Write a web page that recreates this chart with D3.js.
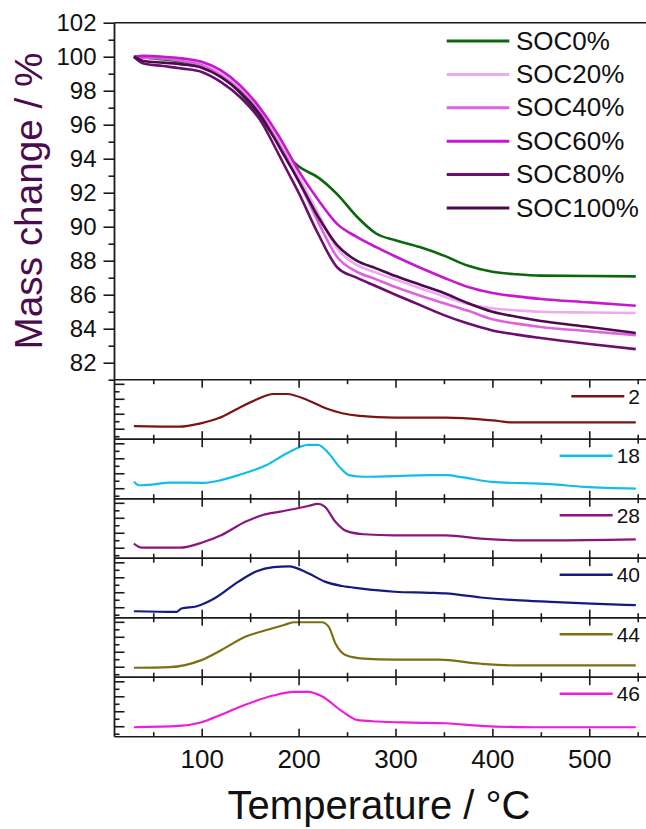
<!DOCTYPE html>
<html>
<head>
<meta charset="utf-8">
<script src="https://cdn.jsdelivr.net/npm/d3@7"></script>
<style>
  body { margin: 0; background: #fff; }
  svg { display: block; font-family: "Liberation Sans", Arial, sans-serif; }
</style>
</head>
<body>
<div id="chart"></div>
<script>
// TGA mass curves (top panel)
const tgaTemps = [30, 40, 60, 80, 100, 120, 140, 160, 180, 190, 200, 220, 240, 260, 280, 300, 325, 350, 375, 400, 425, 450, 500, 548];
const soc0 = [100, 99.95, 99.85, 99.7, 99.4, 98.85, 97.85, 96.4, 94.9, 94.1, 93.55, 92.9, 91.9, 90.6, 89.6, 89.2, 88.8, 88.3, 87.7, 87.35, 87.2, 87.12, 87.1, 87.08];
const soc20 = [100, 100, 99.95, 99.85, 99.6, 99.1, 98.2, 96.9, 95.1, 94.1, 93.0, 90.8, 88.7, 87.75, 87.3, 86.9, 86.4, 85.9, 85.45, 85.2, 85.08, 85.0, 84.95, 84.92];
const soc40 = [100, 99.95, 99.9, 99.75, 99.5, 98.9, 98.0, 96.7, 94.8, 93.8, 92.7, 90.3, 88.2, 87.35, 86.9, 86.45, 85.95, 85.5, 85.05, 84.55, 84.3, 84.1, 83.85, 83.62];
const soc60 = [100, 100.05, 100, 99.9, 99.7, 99.2, 98.3, 97.0, 95.3, 94.3, 93.3, 91.6, 90.15, 89.4, 88.8, 88.25, 87.6, 87.0, 86.45, 86.1, 85.9, 85.75, 85.55, 85.35];
const soc80 = [100, 99.6, 99.45, 99.3, 99.1, 98.5, 97.6, 96.3, 94.2, 93.1, 92.0, 89.6, 87.6, 87.0, 86.5, 86.0, 85.4, 84.8, 84.3, 83.9, 83.65, 83.45, 83.1, 82.8];
const soc100 = [100, 99.75, 99.65, 99.55, 99.35, 98.8, 97.9, 96.6, 94.7, 93.7, 92.7, 90.6, 88.9, 88.0, 87.55, 87.1, 86.6, 86.1, 85.5, 85.0, 84.7, 84.45, 84.1, 83.75];
const socNames = ["SOC0%", "SOC20%", "SOC40%", "SOC60%", "SOC80%", "SOC100%"];
const socColors = ["#0c670c", "#eeaaee", "#dc64dc", "#c618cf", "#6b0e70", "#4c0a4e"];

// MS ion currents (lower panels), arbitrary units
const ms2Temps = [30, 77, 99, 117, 138, 156, 174, 188, 210, 228, 245, 263, 299, 352, 388, 406, 420, 460, 548];
const ms2Values = [1.36, 1.27, 1.72, 2.39, 3.74, 4.87, 5.64, 5.64, 4.78, 3.74, 3.07, 2.71, 2.48, 2.48, 2.26, 2.03, 1.85, 1.85, 1.85];
const ms18Temps = [30, 35, 49, 67, 102, 120, 138, 167, 188, 210, 220, 231, 242, 252, 267, 299, 335, 352, 370, 399, 460, 495, 548];
const ms18Values = [1.85, 1.4, 1.49, 1.76, 1.72, 2.08, 2.75, 4.1, 5.68, 6.8, 6.8, 5.68, 3.88, 2.75, 2.53, 2.62, 2.75, 2.75, 2.44, 1.85, 1.54, 1.18, 0.95];
const ms28Temps = [30, 38, 77, 102, 120, 145, 163, 181, 199, 210, 220, 227, 238, 249, 267, 299, 352, 388, 424, 460, 548];
const ms28Values = [1.54, 1.0, 1.0, 1.76, 2.66, 4.46, 5.37, 5.82, 6.27, 6.58, 6.85, 6.49, 4.46, 3.25, 2.8, 2.66, 2.66, 2.21, 1.99, 1.99, 2.12];
const ms40Temps = [30, 74, 79, 95, 113, 138, 156, 174, 190, 210, 227, 245, 263, 299, 335, 352, 388, 424, 460, 502, 548];
const ms40Values = [0.46, 0.37, 0.82, 1.13, 2.17, 4.42, 5.77, 6.36, 6.45, 5.55, 4.42, 3.83, 3.52, 3.07, 2.93, 2.84, 2.3, 1.94, 1.72, 1.49, 1.27];
const ms44Temps = [30, 67, 99, 120, 145, 167, 185, 195, 224, 231, 238, 249, 267, 299, 345, 388, 424, 548];
const ms44Values = [0.86, 0.95, 1.85, 3.2, 5.0, 5.9, 6.58, 6.94, 6.94, 6.36, 4.1, 2.53, 2.08, 1.94, 1.94, 1.4, 1.18, 1.18];
const ms46Temps = [30, 77, 99, 120, 145, 174, 195, 210, 224, 245, 260, 281, 317, 352, 388, 442, 548];
const ms46Values = [0.86, 1.04, 1.49, 2.53, 3.88, 5.1, 5.59, 5.59, 5.0, 2.98, 1.85, 1.63, 1.49, 1.4, 1.04, 0.86, 0.86];
const msLabels = ["2", "18", "28", "40", "44", "46"];
const msColors = ["#7d1212", "#12bdea", "#8a1580", "#141a80", "#7b6f12", "#f01cdc"];

const width = 646;
const height = 829;
const axisColor = "#1a1a1a";

const svg = d3.select("#chart").append("svg").attr("width", width).attr("height", height);

const x = d3.scaleLinear().domain([10, 560]).range([114.5, 647.4]);
const yTop = d3.scaleLinear().domain([81, 102]).range([379.7, 22.7]);
const panelH = 59.5;

const socSeries = [soc0, soc20, soc40, soc60, soc80, soc100];
const msSeries = [
  [ms2Temps, ms2Values],
  [ms18Temps, ms18Values],
  [ms28Temps, ms28Values],
  [ms40Temps, ms40Values],
  [ms44Temps, ms44Values],
  [ms46Temps, ms46Values],
];

// Top panel: mass curves
const topLine = d3
  .line()
  .x((d) => x(d[0]))
  .y((d) => yTop(d[1]))
  .curve(d3.curveMonotoneX);

const topG = svg.append("g");
socSeries.forEach((vals, i) => {
  topG
    .append("path")
    .attr("d", topLine(tgaTemps.map((t, j) => [t, vals[j]])))
    .attr("fill", "none")
    .attr("stroke", socColors[i])
    .attr("stroke-width", 2.6);
});

// Top panel left axis (outward ticks)
const majorY = d3.range(82, 103, 2);
const minorY = d3.range(81, 102, 2);
const yAxisMajor = svg
  .append("g")
  .attr("transform", `translate(${x(10)},0)`)
  .call(d3.axisLeft(yTop).tickValues(majorY).tickSizeInner(11).tickSizeOuter(0).tickPadding(7));
yAxisMajor.selectAll("text").attr("font-size", 24).attr("fill", "#111");
svg
  .append("g")
  .attr("transform", `translate(${x(10)},0)`)
  .call(d3.axisLeft(yTop).tickValues(minorY).tickSizeInner(6).tickSizeOuter(0).tickFormat(""));
svg.selectAll(".domain").remove();
svg.selectAll(".tick line").attr("stroke", axisColor).attr("stroke-width", 1.6);

// Top frame line
svg
  .append("line")
  .attr("x1", x(10))
  .attr("x2", width)
  .attr("y1", yTop(102))
  .attr("y2", yTop(102))
  .attr("stroke", axisColor)
  .attr("stroke-width", 1.6);

// Top legend
const legend = svg.append("g");
socNames.forEach((name, i) => {
  const ly = 41 + i * 33.4;
  legend
    .append("line")
    .attr("x1", 446.7)
    .attr("x2", 509.3)
    .attr("y1", ly)
    .attr("y2", ly)
    .attr("stroke", socColors[i])
    .attr("stroke-width", 3);
  legend
    .append("text")
    .attr("x", 516)
    .attr("y", ly + 8.5)
    .attr("font-size", 26)
    .attr("fill", "#111")
    .text(name);
});

// Lower panels: MS signals
const majorX = [100, 200, 300, 400, 500];
const minorX = [50, 150, 250, 350, 450, 550];

msSeries.forEach(([temps, vals], i) => {
  const top = yTop(81) + i * panelH;
  const y = d3.scaleLinear().domain([-0.4, 7.55]).range([top + panelH, top]);
  const g = svg.append("g");

  const line = d3
    .line()
    .x((d) => x(d[0]))
    .y((d) => y(d[1]))
    .curve(d3.curveMonotoneX);

  g.append("path")
    .attr("d", line(temps.map((t, j) => [t, vals[j]])))
    .attr("fill", "none")
    .attr("stroke", msColors[i])
    .attr("stroke-width", 2.2);

  // inward y ticks
  g.append("g")
    .attr("transform", `translate(${x(10)},0)`)
    .call(d3.axisLeft(y).tickValues([1, 3, 5, 7]).tickSizeInner(-10).tickSizeOuter(0).tickFormat(""));
  g.append("g")
    .attr("transform", `translate(${x(10)},0)`)
    .call(d3.axisLeft(y).tickValues([0, 2, 4, 6]).tickSizeInner(-5).tickSizeOuter(0).tickFormat(""));

  // inward x ticks on top and bottom edges
  g.append("g")
    .attr("transform", `translate(0,${top})`)
    .call(d3.axisTop(x).tickValues(majorX).tickSizeInner(-8).tickSizeOuter(0).tickFormat(""));
  g.append("g")
    .attr("transform", `translate(0,${top})`)
    .call(d3.axisTop(x).tickValues(minorX).tickSizeInner(-4.5).tickSizeOuter(0).tickFormat(""));
  g.append("g")
    .attr("transform", `translate(0,${top + panelH})`)
    .call(d3.axisBottom(x).tickValues(majorX).tickSizeInner(-8).tickSizeOuter(0).tickFormat(""));
  g.append("g")
    .attr("transform", `translate(0,${top + panelH})`)
    .call(d3.axisBottom(x).tickValues(minorX).tickSizeInner(-4.5).tickSizeOuter(0).tickFormat(""));

  g.selectAll(".domain").remove();
  g.selectAll(".tick line").attr("stroke", axisColor).attr("stroke-width", 1.6);

  // panel edge lines
  [top, top + panelH].forEach((yy) => {
    g.append("line")
      .attr("x1", x(10))
      .attr("x2", width)
      .attr("y1", yy)
      .attr("y2", yy)
      .attr("stroke", axisColor)
      .attr("stroke-width", 1.6);
  });

  // legend entry
  const ly = top + 16.5;
  const label = g
    .append("text")
    .attr("x", 640)
    .attr("y", ly + 7.5)
    .attr("text-anchor", "end")
    .attr("font-size", 21)
    .attr("fill", "#111")
    .text(msLabels[i]);
  const tx = 640 - label.node().getComputedTextLength();
  g.append("line")
    .attr("x1", tx - 57)
    .attr("x2", tx - 4)
    .attr("y1", ly)
    .attr("y2", ly)
    .attr("stroke", msColors[i])
    .attr("stroke-width", 2.6);
});

// Bottom tick labels
const bottomY = yTop(81) + 6 * panelH;
const xLabels = svg
  .append("g")
  .attr("transform", `translate(0,${bottomY})`)
  .call(d3.axisBottom(x).tickValues(majorX).tickSize(0).tickPadding(13));
xLabels.select(".domain").remove();
xLabels.selectAll("text").attr("font-size", 26).attr("fill", "#111");

// Left axis line through all panels
svg
  .append("line")
  .attr("x1", x(10))
  .attr("x2", x(10))
  .attr("y1", yTop(102))
  .attr("y2", bottomY)
  .attr("stroke", axisColor)
  .attr("stroke-width", 1.8);

// Axis titles
svg
  .append("text")
  .attr("transform", `translate(41.7,201) rotate(-90)`)
  .attr("text-anchor", "middle")
  .attr("font-size", 38)
  .attr("textLength", 297)
  .attr("lengthAdjust", "spacingAndGlyphs")
  .attr("fill", "#4b0c4f")
  .text("Mass change / %");

svg
  .append("text")
  .attr("x", 379)
  .attr("y", 819)
  .attr("text-anchor", "middle")
  .attr("font-size", 40)
  .attr("fill", "#111")
  .text("Temperature / °C");
</script>
</body>
</html>
